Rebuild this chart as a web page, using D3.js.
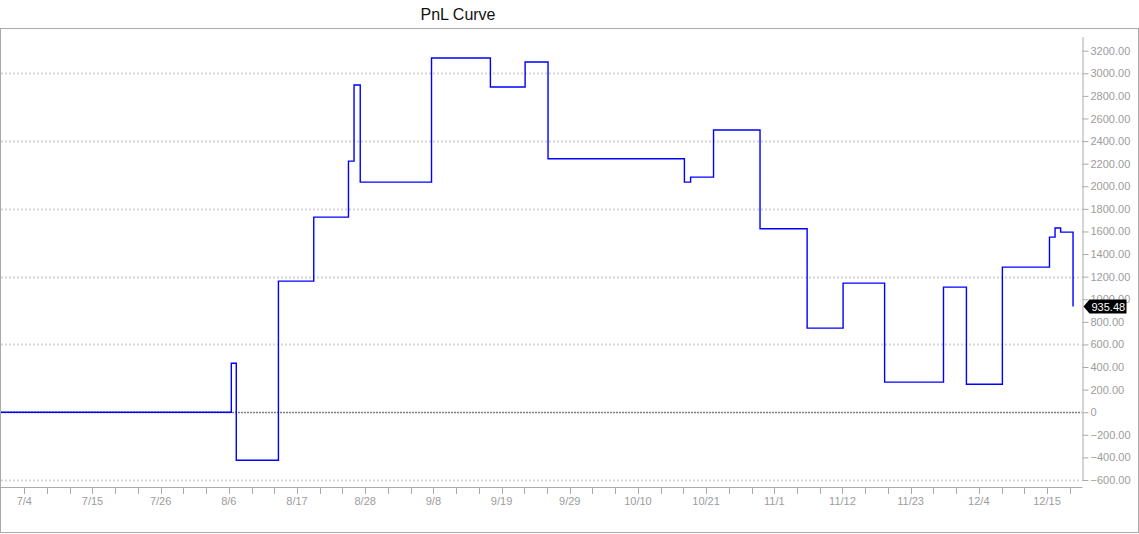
<!DOCTYPE html>
<html>
<head>
<meta charset="utf-8">
<script src="https://cdn.jsdelivr.net/npm/d3@7"></script>
<style>
  html, body { margin: 0; padding: 0; background: #fff; }
  svg { display: block; font-family: "Liberation Sans", Arial, sans-serif; }
</style>
</head>
<body>
<svg id="chart" width="1139" height="534"></svg>
<script>
// ---- data ----
const title = "PnL Curve";
const tickLabels = ["7/4","7/15","7/26","8/6","8/17","8/28","9/8","9/19","9/29","10/10","10/21","11/1","11/12","11/23","12/4","12/15"];
// bar index where the value changes (labels sit every 11 bars)
const stepIndex = [-3.76, 33.4, 34.2, 41.0, 46.7, 52.3, 53.2, 54.2, 65.7, 75.2, 80.8, 84.5, 106.5, 107.5, 111.2, 118.7, 126.3, 132.1, 138.8, 148.3, 152.0, 157.8, 165.4, 166.3, 167.2, 169.2];
const pnl = [0, 434, -425, 1160, 1727, 2223, 2896, 2037, 3135, 2879, 3100, 2244, 2037, 2081, 2498, 1624, 744, 1143, 266, 1107, 248, 1284, 1550, 1630, 1594, 935.48];
const yTicks = [-600,-400,-200,0,200,400,600,800,1000,1200,1400,1600,1800,2000,2200,2400,2600,2800,3000,3200];
const gridValues = [-600, 600, 1200, 1800, 2400, 3000];
const lastValue = 935.48;

// ---- layout ----
const W = 1139, H = 534;
const svg = d3.select("#chart");
const axisColor = "#aaaaaa";
const textColor = "#9c9c9c";

const x = d3.scaleLinear().domain([0, 165]).range([24.3, 1047]);
const y = d3.scaleLinear().domain([-600, 3200]).range([480, 50.7]);
const axisX = 1082.5;
const axisY = 487.5;

// frame
svg.append("rect").attr("x", 0.5).attr("y", 28.5).attr("width", W - 1).attr("height", 504)
  .attr("fill", "none").attr("stroke", axisColor).attr("stroke-width", 1);

// title
svg.append("text").attr("x", 458).attr("y", 19.5).attr("text-anchor", "middle")
  .attr("font-size", 16).attr("fill", "#111").text(title);

// gridlines
svg.append("g").selectAll("line").data(gridValues).join("line")
  .attr("x1", 1).attr("x2", axisX - 1)
  .attr("y1", d => Math.round(y(d)) + 0.5).attr("y2", d => Math.round(y(d)) + 0.5)
  .attr("stroke", "#d6d6d6").attr("stroke-width", 2).attr("stroke-dasharray", "2,2");

// zero line
svg.append("line").attr("x1", 1).attr("x2", axisX - 1)
  .attr("y1", Math.round(y(0)) + 0.5).attr("y2", Math.round(y(0)) + 0.5)
  .attr("stroke", "#808080").attr("stroke-width", 1.5).attr("stroke-dasharray", "2,1");

// right y axis
const yAxis = d3.axisRight(y).tickValues(yTicks).tickSize(6).tickPadding(2)
  .tickFormat(d => d === 0 ? "0" : d3.format(".2f")(d));
const gy = svg.append("g").attr("transform", `translate(${axisX},0)`).call(yAxis);
gy.select(".domain").attr("stroke", axisColor).attr("d", `M0.5,37V481`);
gy.selectAll(".tick line").attr("stroke", axisColor);
gy.selectAll(".tick text").attr("fill", textColor).attr("font-size", 11)
  .attr("font-family", "'Liberation Sans', Arial, sans-serif");

// bottom x axis
const minorTicks = d3.range(0, 47).map(k => k * 11 / 3);
svg.append("line").attr("x1", 1).attr("x2", axisX).attr("y1", axisY).attr("y2", axisY)
  .attr("stroke", axisColor);
svg.append("g").selectAll("line").data(minorTicks).join("line")
  .attr("x1", d => Math.round(x(d)) + 0.5).attr("x2", d => Math.round(x(d)) + 0.5)
  .attr("y1", axisY).attr("y2", axisY + 6.5).attr("stroke", axisColor);
svg.append("g").selectAll("text").data(tickLabels).join("text")
  .attr("x", (d, i) => x(i * 11)).attr("y", 505).attr("text-anchor", "middle")
  .attr("font-size", 11).attr("fill", textColor).text(d => d);

// pnl step line
const pts = stepIndex.map((d, i) => [d, pnl[i]]);
const line = d3.line().x(d => x(d[0])).y(d => y(d[1])).curve(d3.curveStepAfter);
svg.append("path").datum(pts).attr("d", line)
  .attr("fill", "none").attr("stroke", "#0000ff").attr("stroke-width", 1.4);

// last value tag
const ty = y(lastValue);
const tag = svg.append("g").attr("transform", `translate(${axisX + 1},${ty})`);
tag.append("path").attr("d", "M0,0 L6,-7 L43,-7 L43,7 L6,7 Z").attr("fill", "#000");
tag.append("text").attr("x", 8).attr("y", 4).attr("font-size", 11).attr("fill", "#fff")
  .text(d3.format(".2f")(lastValue));
</script>
</body>
</html>
